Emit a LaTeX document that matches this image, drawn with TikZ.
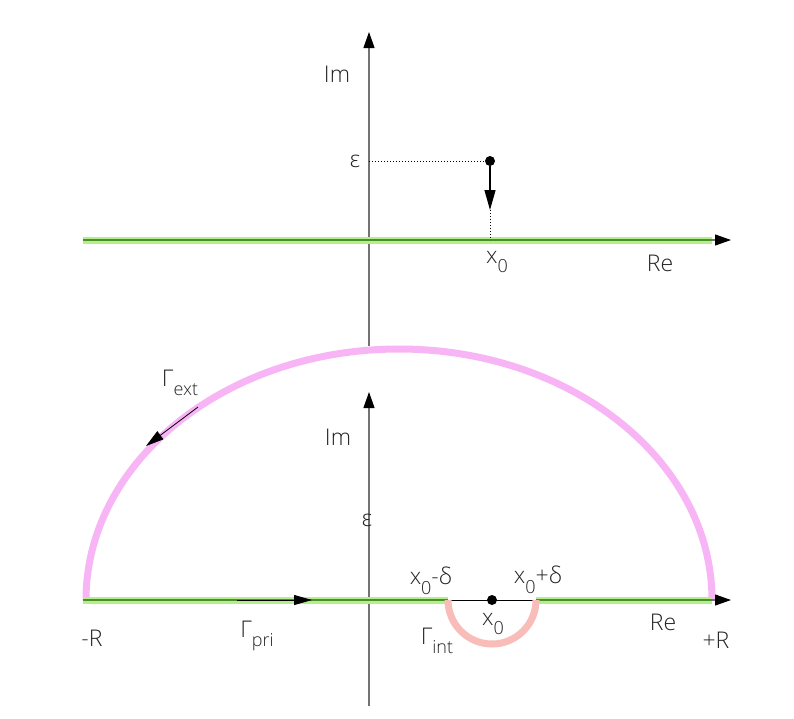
\documentclass[tikz,border=0pt]{standalone}
\usepackage{fontspec}
\setmainfont{Open Sans Light}
\usetikzlibrary{arrows.meta}
\definecolor{lgreen}{HTML}{B5EE8C}
\definecolor{dgreen}{HTML}{4C8F2A}
\definecolor{lpink}{HTML}{F7B5F5}
\definecolor{lsalmon}{HTML}{F8BDB8}
\definecolor{txt}{HTML}{222222}
\newcommand\lowsub[1]{\raisebox{-0.42em}{\fontsize{18}{20}\selectfont #1}}
\tikzset{
  axarrow/.style={-{Triangle[length=16pt,width=11pt,fill=black,color=black]}, line width=1.2pt, draw=gray!90!black},
  realline/.style={draw=lgreen, line width=7pt},
  realcore/.style={draw=dgreen, line width=1.2pt},
  lab/.style={text=txt, font=\fontsize{23}{26}\selectfont, inner sep=1pt},
  dot/.style={circle, fill=black, inner sep=0pt, minimum size=10pt},
  dotted line/.style={dotted, line width=1pt, draw=black}
}
\begin{document}
\begin{tikzpicture}[x=1pt,y=-1pt]
\useasboundingbox (0,0) rectangle (794,718);
% ---------------- top diagram ----------------
\coordinate (tB) at (369,346);
\coordinate (tT) at (369,32);
\draw[axarrow] (tB) -- (tT);
\coordinate (tL) at (83,240);
\coordinate (tR) at (712,240);
\coordinate (tRtip) at (731,240);
\draw[realline] (tL) -- (tR);
\draw[realcore] (tL) -- (tR);
\draw[axarrow] (tR) -- (tRtip);
\node[dot] (p) at (490,161) {};
\coordinate (eps) at (369,161);
\coordinate (mid) at (490,210);
\coordinate (x0t) at (490,240);
\draw[dotted line] (eps) -- (p);
\draw[-{Triangle[length=20pt,width=11pt]}, line width=1.2pt] (p) -- (mid);
\draw[dotted line] (mid) -- (x0t);
\node[lab] (epsl) at (355,161) {ε};
\node[lab] (x0l) at (497,262) {x\lowsub{0}};
\node[lab] (rel) at (660,263) {Re};
\node[lab] (iml) at (337,74) {Im};
% ---------------- bottom diagram ----------------
\coordinate (bB) at (369,706);
\coordinate (bT) at (369,392);
\draw[axarrow] (bB) -- (bT);
% outer arc
\draw[draw=lpink, line width=7pt] (712,600) arc[start angle=0, end angle=-180, x radius=313, y radius=251];
% real line pieces
\coordinate (bL) at (83,600);
\coordinate (dl) at (448,600);
\coordinate (dr) at (536,600);
\coordinate (bR) at (712,600);
\coordinate (bRtip) at (731,600);
\draw[realline] (bL) -- (dl);
\draw[realline] (dr) -- (bR);
\draw[realcore] (bL) -- (dl);
\draw[realcore] (dr) -- (bR);
\draw[line width=1pt] (dl) -- (dr);
\draw[axarrow] (bR) -- (bRtip);
% inner semicircle
\draw[draw=lsalmon, line width=7pt] (dl) arc[start angle=180, end angle=0, radius=44];
\node[dot] (x0b) at (492,600) {};
% arrows on contour
\coordinate (pa) at (237,600);
\coordinate (pb) at (312,600);
\draw[-{Triangle[length=18pt,width=10pt]}, line width=1pt] (pa) -- (pb);
\coordinate (ea) at (198,407);
\coordinate (eb) at (146,446);
\draw[-{Triangle[length=18pt,width=10pt]}, line width=0.8pt] (ea) -- (eb);
% labels
\node[lab] (mR) at (92,638) {-R};
\node[lab] (pR) at (716,640) {+R};
\node[lab] (reb) at (663,622) {Re};
\node[lab] (imb) at (338,437) {Im};
\node[lab] (epsb) at (367,520) {ε};
\node[lab] (gpri) at (257,636) {Γ\lowsub{pri}};
\node[lab] (gext) at (180,383) {Γ\lowsub{ext}};
\node[lab] (gint) at (437,641) {Γ\lowsub{int}};
\node[lab] (x0m) at (431,581) {x\lowsub{0}-δ};
\node[lab] (x0p) at (538,580) {x\lowsub{0}+δ};
\node[lab] (x0c) at (493,624) {x\lowsub{0}};
\end{tikzpicture}
\end{document}
